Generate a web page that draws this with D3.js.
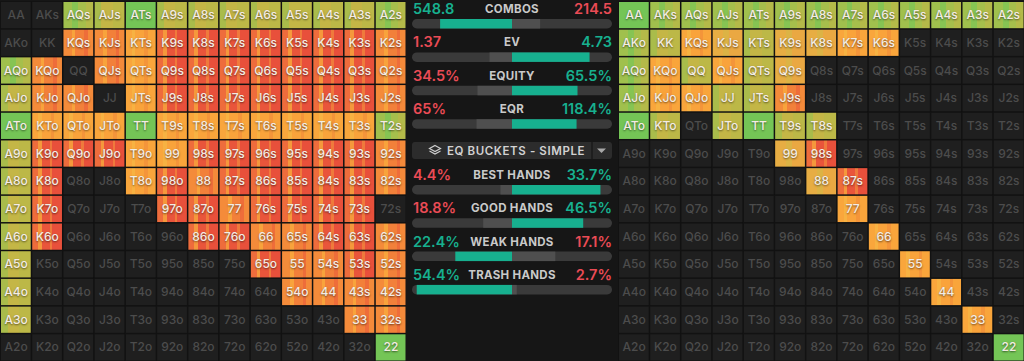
<!DOCTYPE html>
<html>
<head>
<meta charset="utf-8">
<script src="https://cdn.jsdelivr.net/npm/d3@7/dist/d3.min.js"></script>
<style>
html,body{margin:0;padding:0;background:#161616;overflow:hidden;}
svg{display:block;font-family:Inter,"Noto Sans",sans-serif;}
.cell-label{font-size:12px;font-weight:500;}
.filled{fill:#f4ece4;text-shadow:0 1px 2px rgba(0,0,0,0.55);}
.empty{fill:#4c4c4c;}
</style>
</head>
<body>
<svg id="chart" width="1024" height="361"></svg>
<script>
// ---------- DATA ----------
const ranks = ["A","K","Q","J","T","9","8","7","6","5","4","3","2"];
// colour class per cell (row = first rank, column = second rank); "." = not in range
const leftRange = [
  "..lygyyyyyyyl",
  "..OOorrrrrrrO",
  "lO.OorrrrrrrO",
  "yOO.orrrrrrrO",
  "gooogoooooool",
  "yrrroorrrrrrO",
  "yr..orOrrrrrO",
  "yr...rrOrrrr.",
  "yr....rrOOrrO",
  "y.......rOOrO",
  "y........OOOO",
  "y..........OO",
  "............g"
];
const rightRange = [
  "gllllllllllll.",
  "lyoayaaoo....",
  "loyoya.......",
  "looyyO.......",
  "gy.ygyy......",
  ".....ar......",
  "......ar.....",
  ".......o.....",
  "........o....",
  ".........o...",
  "..........o..",
  "...........o.",
  "............g"
].map(s=>s.slice(0,13));
const statLabels = ["COMBOS","EV","EQUITY","EQR"];
const statLeft   = [548.8, 1.37, 34.5, 65];
const statRight  = [214.5, 4.73, 65.5, 118.4];
const statFmt    = ["548.8|214.5","1.37|4.73","34.5%|65.5%","65%|118.4%"];
const bucketLabels = ["BEST HANDS","GOOD HANDS","WEAK HANDS","TRASH HANDS"];
const bucketLeft   = [4.4, 18.8, 22.4, 54.4];
const bucketRight  = [33.7, 46.5, 17.1, 2.7];
const bucketFmt    = ["4.4%|33.7%","18.8%|46.5%","22.4%|17.1%","54.4%|2.7%"];
const dropdownLabel = "EQ BUCKETS - SIMPLE";

// ---------- STYLE ----------
const TEAL = "#17b08f", RED = "#ea4b55";
const stripes = {
  g: [["#74c556",0,1]],
  l: [["#a0c04d",0,0.3],["#86c453",0.3,0.5],["#a6bf4c",0.5,0.75],["#b4ba49",0.75,1]],
  y: [["#a9bc4b",0,0.22],["#c4b646",0.22,0.6],["#bcb847",0.6,1]],
  a: [["#e7ad43",0,0.35],["#dcb345",0.35,0.55],["#eaa842",0.55,1]],
  o: [["#f9a63c",0,0.2],["#f7b242",0.2,0.32],["#f9a33b",0.32,0.62],["#f4953a",0.62,0.74],["#f9a53b",0.74,1]],
  O: [["#f48b3a",0,0.28],["#f8a33c",0.28,0.4],["#f2803a",0.4,0.7],["#ee6d3a",0.7,0.82],["#f48a3a",0.82,1]],
  r: [["#ee6c3c",0,0.2],["#f5983c",0.2,0.32],["#e9553b",0.32,0.6],["#ef7a3c",0.6,0.68],["#e8503b",0.68,1]]
};

const svg = d3.select("#chart");
svg.append("rect").attr("width",1024).attr("height",361).attr("fill","#161616");
const defs = svg.append("defs");
Object.entries(stripes).forEach(([k,segs])=>{
  const g = defs.append("linearGradient").attr("id","grad-"+k)
    .attr("x1","0").attr("x2","1").attr("y1","0").attr("y2","0");
  segs.forEach(([c,a,b])=>{
    g.append("stop").attr("offset",a).attr("stop-color",c);
    g.append("stop").attr("offset",b).attr("stop-color",c);
  });
});

function handLabel(i,j){
  if(i===j) return ranks[i]+ranks[j];
  if(i<j) return ranks[i]+ranks[j]+"s";
  return ranks[j]+ranks[i]+"o";
}

function drawGrid(range, x0, x1){
  const x = d3.scaleBand().domain(d3.range(13)).range([x0,x1]);
  const y = d3.scaleBand().domain(d3.range(13)).range([1,361]);
  const cells = [];
  range.forEach((row,i)=>{ for(let j=0;j<13;j++){ cells.push({i,j,c:row[j]||"."}); } });
  const g = svg.append("g");
  g.selectAll("rect.bg").data(cells).join("rect")
    .attr("x",d=>x(d.j)).attr("y",d=>y(d.i))
    .attr("width",x.bandwidth()).attr("height",y.bandwidth())
    .attr("fill","#121212");
  g.selectAll("rect.cell").data(cells).join("rect")
    .attr("x",d=>x(d.j)+1).attr("y",d=>y(d.i)+1)
    .attr("width",x.bandwidth()-1.5).attr("height",y.bandwidth()-1.5)
    .attr("fill",d=>d.c==="."?"#1f1f1f":"url(#grad-"+d.c+")");
  g.selectAll("text").data(cells).join("text")
    .attr("class",d=>"cell-label "+(d.c==="."?"empty":"filled"))
    .attr("x",d=>x(d.j)+x.bandwidth()/2+0.5)
    .attr("y",d=>y(d.i)+y.bandwidth()/2+1)
    .attr("text-anchor","middle").attr("dominant-baseline","middle")
    .text(d=>handLabel(d.i,d.j));
}
drawGrid(leftRange, 0, 406);
drawGrid(rightRange, 618, 1024);

// ---------- middle panel ----------
const cx = 512, half = 100, barL = 412, barR = 612;
const w = d3.scaleLinear().domain([0,1]).range([0,half]);
function statRow(label, lv, rv, fmt, yText){
  const [ls,rs] = fmt.split("|");
  const leftWins = lv>rv;
  const g = svg.append("g");
  g.append("text").attr("x",barL+1).attr("y",yText).attr("font-size",14.5).attr("font-weight",600)
    .attr("fill",leftWins?TEAL:RED).text(ls);
  g.append("text").attr("x",barR).attr("y",yText).attr("text-anchor","end").attr("font-size",14.5).attr("font-weight",600)
    .attr("fill",leftWins?RED:TEAL).text(rs);
  g.append("text").attr("x",cx).attr("y",yText-1).attr("text-anchor","middle").attr("font-size",11.5).attr("font-weight",700)
    .attr("fill","#c9c9c9").attr("letter-spacing",0.3).text(label);
  const by = yText+5;
  g.append("rect").attr("x",barL).attr("y",by).attr("width",barR-barL).attr("height",9.5).attr("rx",4.75).attr("fill","#3a3a3a");
  const tot = lv+rv;
  const lw = w(lv/tot), rw = w(rv/tot);
  g.append("rect").attr("x",cx-lw).attr("y",by).attr("width",lw).attr("height",9.5)
    .attr("fill",leftWins?TEAL:"#4f4f4f");
  g.append("rect").attr("x",cx).attr("y",by).attr("width",rw).attr("height",9.5)
    .attr("fill",leftWins?"#4f4f4f":TEAL);
}
statLabels.forEach((l,k)=>statRow(l,statLeft[k],statRight[k],statFmt[k],14+k*33.4));

// dropdown
const dd = svg.append("g");
dd.append("rect").attr("x",412).attr("y",142).attr("width",200).attr("height",17).attr("rx",3).attr("fill","#2c2c2c");
dd.append("line").attr("x1",592).attr("x2",592).attr("y1",142).attr("y2",159).attr("stroke","#1a1a1a").attr("stroke-width",1.5);
dd.append("path").attr("d","M597,148.5 L606,148.5 L601.5,153 Z").attr("fill","#a8a8a8");
// layers icon
dd.append("path").attr("d","M435,145.5 L440.5,148.5 L435,151.5 L429.5,148.5 Z").attr("fill","none").attr("stroke","#cfcfcf").attr("stroke-width",1.2);
dd.append("path").attr("d","M429.5,151 L435,154 L440.5,151").attr("fill","none").attr("stroke","#cfcfcf").attr("stroke-width",1.2);
dd.append("text").attr("x",447).attr("y",154.5).attr("font-size",11.5).attr("font-weight",600)
  .attr("fill","#d2d2d2").attr("letter-spacing",0.6).text(dropdownLabel);

bucketLabels.forEach((l,k)=>statRow(l,bucketLeft[k],bucketRight[k],bucketFmt[k],180+k*33.3));
</script>
</body>
</html>
